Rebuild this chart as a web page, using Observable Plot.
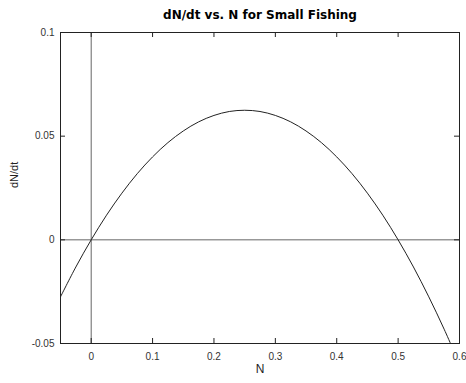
<!DOCTYPE html>
<html>
<head>
<meta charset="utf-8">
<script src="https://cdn.jsdelivr.net/npm/d3@7"></script>
<script src="https://cdn.jsdelivr.net/npm/@observablehq/plot@0.6"></script>
<style>
  html, body { margin: 0; padding: 0; background: #fff; }
  #chart { width: 466px; height: 383px; }
</style>
</head>
<body>
<div id="chart"></div>
<script>
// Values
const nValues = [-0.05,-0.025,0,0.025,0.05,0.075,0.1,0.125,0.15,0.175,0.2,0.225,0.25,0.275,0.3,0.325,0.35,0.375,0.4,0.425,0.45,0.475,0.5,0.525,0.55,0.575,0.6];
const dndtValues = [-0.0275,-0.0131,0,0.0119,0.0225,0.0319,0.04,0.0469,0.0525,0.0569,0.06,0.0619,0.0625,0.0619,0.06,0.0569,0.0525,0.0469,0.04,0.0319,0.0225,0.0119,0,-0.0131,-0.0275,-0.0431,-0.06];
const xTicks = [0, 0.1, 0.2, 0.3, 0.4, 0.5, 0.6];
const yTicks = [-0.05, 0, 0.05, 0.1];
const xDomain = [-0.05, 0.6];
const yDomain = [-0.05, 0.1];
const titleText = "dN/dt vs. N for Small Fishing";
const xLabel = "N";
const yLabel = "dN/dt";
const zeroLine = [0];

const data = nValues.map((n, i) => ({n, v: dndtValues[i]}));

const fmt = d => d === 0 ? "0" : String(d);

const W = 466, H = 383, ML = 60, MR = 7, MT = 32, MB = 40, TICK = 5;
const plotW = W - ML - MR, plotH = H - MT - MB;
// tick length in data units (5px)
const dyTick = (yDomain[1] - yDomain[0]) * TICK / plotH;
const dxTick = (xDomain[1] - xDomain[0]) * TICK / plotW;

const chart = Plot.plot({
  width: W,
  height: H,
  marginLeft: ML,
  marginRight: MR,
  marginTop: MT,
  marginBottom: MB,
  style: {fontFamily: "Liberation Sans, Arial, sans-serif", fontSize: "10px", color: "#222", background: "#fff"},
  x: {domain: xDomain},
  y: {domain: yDomain},
  marks: [
    Plot.ruleX(zeroLine, {x: d => d, stroke: "#666", strokeWidth: 1}),
    Plot.ruleY(zeroLine, {y: d => d, stroke: "#666", strokeWidth: 1}),
    Plot.line(data, {x: "n", y: "v", stroke: "#222", strokeWidth: 1, curve: "catmull-rom", clip: true}),
    // inward tick marks on all four sides
    Plot.ruleX(xTicks, {x: d => d, y1: yDomain[0], y2: yDomain[0] + dyTick, stroke: "#222"}),
    Plot.ruleX(xTicks, {x: d => d, y1: yDomain[1], y2: yDomain[1] - dyTick, stroke: "#222"}),
    Plot.ruleY(yTicks, {y: d => d, x1: xDomain[0], x2: xDomain[0] + dxTick, stroke: "#222"}),
    Plot.ruleY(yTicks, {y: d => d, x1: xDomain[1], x2: xDomain[1] - dxTick, stroke: "#222"}),
    Plot.frame({stroke: "#222", strokeWidth: 1}),
    Plot.axisX(xTicks, {anchor: "bottom", tickSize: 0, tickPadding: 9, tickFormat: fmt, fill: "#333", label: null, fontSize: 10}),
    Plot.axisY(yTicks, {anchor: "left", tickSize: 0, tickPadding: 6, tickFormat: fmt, fill: "#333", label: null, fontSize: 10}),
    Plot.text([titleText], {frameAnchor: "top", dy: -22, text: d => d, fontSize: 12, fontWeight: "bold", fontFamily: "DejaVu Sans, sans-serif", fill: "#000"}),
    Plot.text([xLabel], {frameAnchor: "bottom", dy: 29, text: d => d, fontSize: 12, fill: "#222"}),
    Plot.text([yLabel], {frameAnchor: "left", dx: -46, rotate: -90, text: d => d, fontSize: 11, fill: "#222"})
  ]
});
document.getElementById("chart").appendChild(chart);
</script>
</body>
</html>
